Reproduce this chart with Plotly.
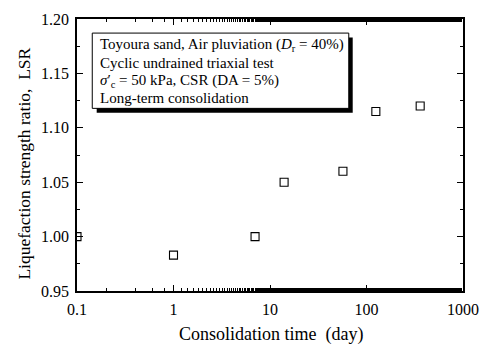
import plotly.graph_objects as go

days = [0.1, 1, 7, 14, 57, 125, 360]
lsr = [1.00, 0.983, 1.00, 1.05, 1.06, 1.115, 1.12]
x_ticks = [0.1, 1, 10, 100, 1000]
x_ticklabels = ["0.1", "1", "10", "100", "1000"]
y_ticks = [0.95, 1.00, 1.05, 1.10, 1.15, 1.20]
info_lines = [
    "Toyoura sand, Air pluviation (<i>D</i><sub>r</sub> = 40%)",
    "Cyclic undrained triaxial test",
    "<i>σ</i>′<sub>c</sub> = 50 kPa, CSR (DA = 5%)",
    "Long-term consolidation",
]
x_title = "Consolidation time  (day)"
y_title = "Liquefaction strength ratio,  LSR"

FONT = "Liberation Serif"
L, R, T, B = 77, 21, 11, 58
W, H = 490, 349
pw, ph = W - L - R, H - T - B

def px(x):
    return (x - L) / pw

def py(y):
    return (H - B - y) / ph

fig = go.Figure()
fig.add_trace(go.Scatter(
    x=days, y=lsr, mode="markers",
    marker=dict(symbol="square-open", size=8, color="black", line=dict(width=1.1, color="black")),
    showlegend=False,
))

shapes = [
    dict(type="rect", xref="paper", yref="paper", x0=px(97), x1=px(357), y0=py(107.5), y1=py(30),
         fillcolor="black", line=dict(width=0), layer="above"),
    dict(type="rect", xref="paper", yref="paper", x0=px(92.5), x1=px(353), y0=py(103), y1=py(25.5),
         fillcolor="white", line=dict(width=1, color="black"), layer="above"),
]
annotations = []
for i, t in enumerate(info_lines):
    annotations.append(dict(
        text=t, xref="paper", yref="paper", x=px(98), y=py(38 + i * 18.2),
        xanchor="left", yanchor="middle", showarrow=False,
        font=dict(family=FONT, size=15, color="black"),
    ))
annotations.append(dict(
    text=y_title, xref="paper", yref="paper", x=px(23), y=py(160),
    xanchor="center", yanchor="middle", textangle=-90, showarrow=False,
    font=dict(family=FONT, size=17.5, color="black"),
))
annotations.append(dict(
    text=x_title, xref="paper", yref="paper", x=px(274), y=py(336),
    xanchor="center", yanchor="middle", showarrow=False,
    font=dict(family=FONT, size=18, color="black"),
))

fig.update_layout(
    width=W, height=H, margin=dict(l=L, r=R, t=T, b=B),
    paper_bgcolor="white", plot_bgcolor="white",
    font=dict(family=FONT, size=16, color="black"),
    shapes=shapes, annotations=annotations,
    xaxis=dict(
        type="log", range=[-1, 3], tickvals=x_ticks, ticktext=x_ticklabels,
        ticks="inside", ticklen=6, tickwidth=1, tickcolor="black",
        showline=True, linecolor="black", linewidth=1.5, mirror="ticks",
        showgrid=False, zeroline=False, ticklabelstandoff=3,
        minor=dict(ticks="inside", ticklen=3, tickcolor="black", showgrid=False),
        tickfont=dict(family=FONT, size=16),
    ),
    yaxis=dict(
        range=[0.95, 1.20], tickvals=y_ticks, ticktext=[f"{v:.2f}" for v in y_ticks],
        ticks="inside", ticklen=6, tickwidth=1, tickcolor="black",
        showline=True, linecolor="black", linewidth=1.5, mirror="ticks",
        showgrid=False, zeroline=False, ticklabelstandoff=3,
        minor=dict(ticks="inside", ticklen=3, tickcolor="black", dtick=0.025, showgrid=False),
        tickfont=dict(family=FONT, size=16),
    ),
)

fig.write_html("out.html")
